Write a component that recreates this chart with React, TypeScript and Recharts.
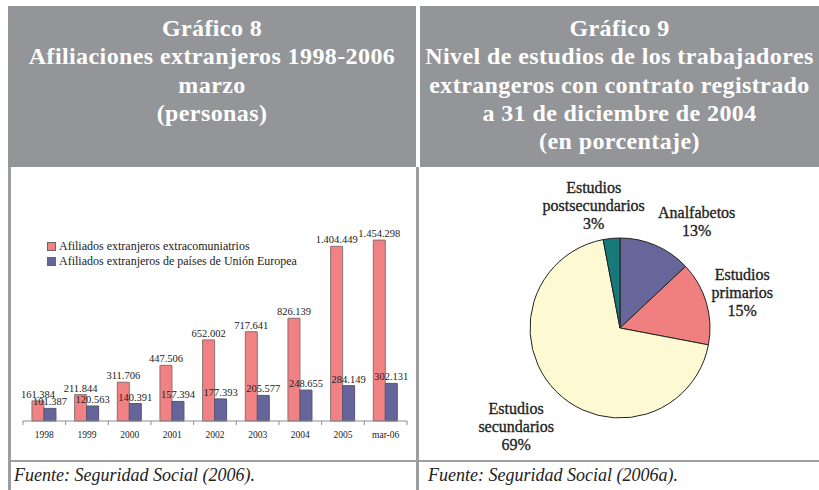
import React from 'react';
import { BarChart, Bar, XAxis, YAxis, LabelList, PieChart, Pie, Cell } from 'recharts';

// Gráfico 8 data
const years = ['1998', '1999', '2000', '2001', '2002', '2003', '2004', '2005', 'mar-06'];
const extracomunitarios = [161384, 211844, 311706, 447506, 652002, 717641, 826139, 1404449, 1454298];
const unionEuropea = [101387, 120563, 140391, 157394, 177393, 205577, 248655, 284149, 302131];
const seriesNames = ['Afiliados extranjeros extracomuniatrios', 'Afiliados extranjeros de países de Unión Europea'];

// Gráfico 9 data
const studyLevels = ['Analfabetos', 'Estudios primarios', 'Estudios secundarios', 'Estudios postsecundarios'];
const studyShares = [13, 15, 69, 3];

const leftTitle = ['Gráfico 8', 'Afiliaciones extranjeros 1998-2006', 'marzo', '(personas)'];
const rightTitle = [
  'Gráfico 9',
  'Nivel de estudios de los trabajadores',
  'extrangeros con contrato registrado',
  'a 31 de diciembre de 2004',
  '(en porcentaje)',
];

const barData = years.map((year, i) => ({ year, extra: extracomunitarios[i], ue: unionEuropea[i] }));
const pieData = studyLevels.map((name, i) => ({ name, value: studyShares[i] }));

const SERIF = '"Liberation Serif", "Times New Roman", serif';
const HEADER_GRAY = '#939598';
const LINE_GRAY = '#9b9da0';
const RED = '#F28183';
const BLUE = '#65659B';
const barColors = [RED, BLUE];
const pieColors = ['#66669B', '#F08080', '#FDF9D2', '#17797A'];

// half of a category band, used for the tick marks between categories
const HALF_BAND = (405 - 12 - 9) / years.length / 2;

// nudges for the pie labels, relative to a point just outside the slice
const labelNudge = [[29, 4], [7, -2.5], [-19, 14], [-15, -3.5]];
const RAD = Math.PI / 180;

const fmt = (v: number) => String(v).replace(/\B(?=(\d{3})+(?!\d))/g, '.');

function CategoryTick(props: any) {
  const { x, y, payload, index } = props;
  return (
    <g>
      <line x1={x - HALF_BAND} x2={x - HALF_BAND} y1={y} y2={y + 4} stroke="#8c8c8c" />
      {index === years.length - 1 && (
        <line x1={x + HALF_BAND} x2={x + HALF_BAND} y1={y} y2={y + 4} stroke="#8c8c8c" />
      )}
      <text x={x} y={y + 17} textAnchor="middle" fontSize={9.5} fontFamily={SERIF} fill="#222">
        {payload.value}
      </text>
    </g>
  );
}

function PieLabel(props: any) {
  const { cx, cy, midAngle, outerRadius, index, name, value } = props;
  const r = outerRadius + 30;
  const x = cx + r * Math.cos(-midAngle * RAD) + labelNudge[index][0];
  const y = cy + r * Math.sin(-midAngle * RAD) + labelNudge[index][1];
  const lines = [...String(name).split(' '), `${value}%`];
  const lh = 18;
  const top = y - ((lines.length - 1) * lh) / 2;
  return (
    <text textAnchor="middle" fontSize={16} fontFamily={SERIF} fill="#1f1f1f" stroke="#1f1f1f" strokeWidth={0.35}>
      {lines.map((l, i) => (
        <tspan key={i} x={x} y={top + i * lh} dominantBaseline="central">
          {l}
        </tspan>
      ))}
    </text>
  );
}

function Header({ lines, left, width }: { lines: string[]; left: number; width: number }) {
  return (
    <div
      style={{
        position: 'absolute',
        left,
        top: 6,
        width,
        height: 161,
        background: HEADER_GRAY,
        color: '#fff',
        fontFamily: SERIF,
        fontWeight: 'bold',
        fontSize: 24,
        letterSpacing: 0.4,
        lineHeight: '28.3px',
        textAlign: 'center',
        paddingTop: 8,
        boxSizing: 'border-box',
        whiteSpace: 'nowrap',
      }}
    >
      {lines.map((l, i) => (
        <div key={i}>{l}</div>
      ))}
    </div>
  );
}

const footStyle: React.CSSProperties = {
  position: 'absolute',
  top: 465,
  fontFamily: SERIF,
  fontStyle: 'italic',
  fontSize: 18,
  color: '#222',
  whiteSpace: 'nowrap',
};

export default function App() {
  return (
    <div style={{ position: 'absolute', left: 0, top: 0, width: 819, height: 490, background: '#fff', overflow: 'hidden' }}>
      <Header lines={leftTitle} left={8} width={408} />
      <Header lines={rightTitle} left={420} width={399} />

      {/* frame lines */}
      <div style={{ position: 'absolute', left: 8, top: 167, width: 3, height: 323, background: LINE_GRAY }} />
      <div style={{ position: 'absolute', left: 416, top: 167, width: 3, height: 323, background: LINE_GRAY }} />
      <div style={{ position: 'absolute', left: 8, top: 460, width: 811, height: 2, background: LINE_GRAY }} />

      <div style={{ position: 'absolute', left: 11, top: 167 }}>
        <BarChart
          width={405}
          height={293}
          data={barData}
          margin={{ top: 55, right: 9, left: 12, bottom: 9 }}
          barCategoryGap="21%"
          barGap={0}
        >
          <XAxis
            dataKey="year"
            height={30}
            interval={0}
            axisLine={{ stroke: '#8c8c8c' }}
            tickLine={false}
            tickSize={0}
            tickMargin={0}
            tick={(p: any) => <CategoryTick {...p} />}
          />
          <YAxis hide domain={[0, 1600000]} />
          <Bar dataKey="extra" name={seriesNames[0]} fill={RED} stroke="#8a7070" strokeWidth={1} isAnimationActive={false}>
            <LabelList dataKey="extra" position="top" offset={3} formatter={fmt} style={{ fontSize: 10.5, fontFamily: SERIF, fill: '#222' }} />
          </Bar>
          <Bar dataKey="ue" name={seriesNames[1]} fill={BLUE} stroke="#555577" strokeWidth={1} isAnimationActive={false}>
            <LabelList dataKey="ue" position="top" offset={3} formatter={fmt} style={{ fontSize: 10.5, fontFamily: SERIF, fill: '#222' }} />
          </Bar>
        </BarChart>
      </div>

      {/* legend of Gráfico 8 */}
      <div style={{ position: 'absolute', left: 47, top: 239, fontFamily: SERIF, fontSize: 12, color: '#222', lineHeight: '15px' }}>
        {seriesNames.map((name, i) => (
          <div key={name} style={{ display: 'flex', alignItems: 'center', whiteSpace: 'nowrap' }}>
            <span
              style={{
                display: 'inline-block',
                width: 7,
                height: 7,
                background: barColors[i],
                border: '1px solid #666',
                marginRight: 3,
              }}
            />
            {name}
          </div>
        ))}
      </div>

      <div style={{ position: 'absolute', left: 419, top: 167 }}>
        <PieChart width={400} height={293}>
          <Pie
            data={pieData}
            dataKey="value"
            nameKey="name"
            cx={196}
            cy={156}
            outerRadius={90}
            startAngle={90}
            endAngle={-270}
            stroke="#222"
            strokeWidth={1}
            labelLine={false}
            label={(p: any) => <PieLabel {...p} />}
            isAnimationActive={false}
          >
            {pieData.map((d, i) => (
              <Cell key={d.name} fill={pieColors[i]} />
            ))}
          </Pie>
        </PieChart>
      </div>

      <div style={{ ...footStyle, left: 14 }}>Fuente: Seguridad Social (2006).</div>
      <div style={{ ...footStyle, left: 428 }}>Fuente: Seguridad Social (2006a).</div>
    </div>
  );
}
